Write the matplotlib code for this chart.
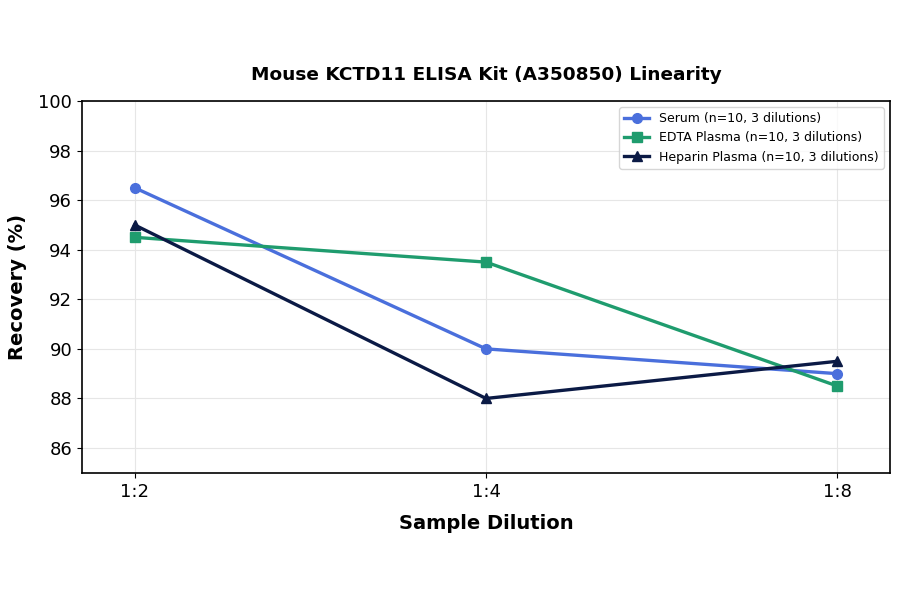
import matplotlib
matplotlib.use("Agg")
import matplotlib.pyplot as plt

# data
dilutions = ["1:2", "1:4", "1:8"]
serum = [96.5, 90.0, 89.0]
edta = [94.5, 93.5, 88.5]
heparin = [95.0, 88.0, 89.5]

fig, ax = plt.subplots(figsize=(9, 5.94), dpi=100)
fig.subplots_adjust(left=0.091, right=0.989, top=0.83, bottom=0.204)

x = range(len(dilutions))
ax.plot(x, serum, color="#4a6fdc", marker="o", lw=2.4, ms=7, label="Serum (n=10, 3 dilutions)")
ax.plot(x, edta, color="#1f9c6e", marker="s", lw=2.4, ms=7, label="EDTA Plasma (n=10, 3 dilutions)")
ax.plot(x, heparin, color="#0b1a45", marker="^", lw=2.4, ms=7, label="Heparin Plasma (n=10, 3 dilutions)")

ax.set_xticks(list(x))
ax.set_xticklabels(dilutions)
ax.set_xlim(-0.15, 2.15)
ax.set_ylim(85, 100)
ax.set_yticks([86, 88, 90, 92, 94, 96, 98, 100])
ax.tick_params(labelsize=13)
ax.grid(True, color="#e6e6e6", lw=0.8)
for s in ax.spines.values():
    s.set_linewidth(1.2)

ax.set_title("Mouse KCTD11 ELISA Kit (A350850) Linearity", fontsize=13.3, fontweight="bold", pad=15)
ax.set_xlabel("Sample Dilution", fontsize=14, fontweight="bold", labelpad=10)
ax.set_ylabel("Recovery (%)", fontsize=14, fontweight="bold", labelpad=8)
ax.legend(loc="upper right", fontsize=9)

fig.savefig("out.png", dpi=100)
